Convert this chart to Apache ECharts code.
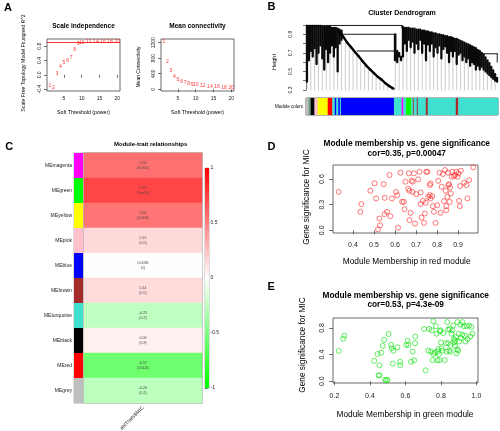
<!DOCTYPE html>
<html><head><meta charset="utf-8">
<script src="https://cdn.jsdelivr.net/npm/echarts@6/dist/echarts.min.js"></script>
<style>html,body{margin:0;padding:0;background:#fff}#c{width:500px;height:431px}</style>
</head><body><div id="c"></div>
<script>
// ---------- Panel A ----------
const powers = [1,2,3,4,5,6,7,8,9,10,12,14,16,18,20];
const scaleFitR2 = [-0.29,-0.35,0.03,0.23,0.34,0.40,0.49,0.69,0.87,0.89,0.92,0.92,0.92,0.93,0.93];
const meanConnectivity = [1230,700,470,325,257,206,180,154,129,110,93,67,55,45,40];
const r2Cutoff = 0.9;
const aXTicks = [5,10,15,20];
const aYTicks1 = [-0.4,0,0.4,0.8];
const aYTicks2 = [0,400,800,1200];

// ---------- Panel B (dendrogram, leaf positions 0..100) ----------
const dendroTop = [0.99,0.99,0.99,0.99,0.99,0.99,0.99,0.99,0.98,0.98,0.98,0.98,0.98,0.97,0.97,0.97,0.96,0.95,0.94,
  null,null,null,null,null,null,null,null,null,null,null,null,null,null,null,null,null,null,null,null,null,null,null,null,null,null,null,
  0.90,0.72,0.70,0.66,
  0.98,0.97,0.97,0.97,0.96,0.96,0.96,0.95,0.95,0.95,
  0.94,0.94,0.93,0.93,0.92,0.92,0.91,0.91,0.90,0.90,
  0.89,0.89,0.88,0.88,0.87,0.87,0.86,0.85,0.85,0.84,
  0.83,0.82,0.81,0.80,0.79,0.78,0.77,0.76,0.75,0.73,
  0.72,0.70,0.68,0.65,0.62,0.59,0.55,0.51,0.47,0.43];
const dendroLow = [0.39,0.62,0.72,0.66,0.75,0.58,0.70,0.78,0.64,0.52,0.74,0.60,0.70,0.78,0.66,0.76,0.50,0.80,0.84,
  0.87,0.84,0.81,0.79,0.76,0.73,0.71,0.68,0.66,0.63,0.61,0.58,0.56,0.54,0.52,0.50,0.48,0.46,0.44,0.42,0.41,0.39,0.37,0.36,0.34,0.33,0.315,
  0.62,0.60,0.66,0.62,
  0.66,0.80,0.72,0.84,0.76,0.82,0.70,0.80,0.74,0.84,
  0.70,0.80,0.62,0.79,0.72,0.80,0.66,0.76,0.70,0.78,
  0.64,0.74,0.77,0.70,0.60,0.72,0.66,0.72,0.58,0.68,
  0.70,0.62,0.66,0.60,0.64,0.56,0.60,0.58,0.52,0.56,
  0.52,0.55,0.52,0.50,0.48,0.46,0.44,0.42,0.40,0.39];
const leafFloor = 0.3;
const chainPos = [17.2,19.5,21.5,23.5,25.5,27.5,29.5,31.5,33.5,35.5,37.5,39.5,41.5,43.5,45.5];
const chainH   = [0.93,0.87,0.81,0.76,0.71,0.66,0.61,0.56,0.52,0.48,0.44,0.41,0.37,0.34,0.315];
const dendroLinks = [[1,0.995,50,0.995],[50,0.995,50,0.965],[18.6,0.90,46,0.90],[26.7,0.72,46,0.72],
  [46,0.90,46,0.62],[91,0.69,99.6,0.69],[99.6,0.69,99.6,0.60]];
const dendroYTicks = [0.3,0.4,0.5,0.6,0.7,0.8,0.9,1.0];
const dendroYLabels = [0.3,0.5,0.7,0.9];
const barStart = [0,1.3,2.4,4.4,6.1,11.3,13.7,15,15.8,16.8,17.6,18.2,45.8,49.8,50.7,52.1,54.8,55.6,56.3,57.7,58.2,62.4,63.4,78,79.3];
const barEnd   = [1.3,2.4,4.4,6.1,11.3,13.7,15,15.8,16.8,17.6,18.2,45.8,49.8,50.7,52.1,54.8,55.6,56.3,57.7,58.2,62.4,63.4,78,79.3,100];
const barColor = ['grey','#6f9f80','black','pink','yellow','red','turquoise','blue','turquoise','blue','turquoise','blue','turquoise','magenta','turquoise','green','turquoise','#8a6060','turquoise','brown','turquoise','brown','turquoise','brown','turquoise'];

// ---------- Panel C ----------
const modules = ['MEmagenta','MEgreen','MEyellow','MEpink','MEblue','MEbrown','MEturquoise','MEblack','MEred','MEgrey'];
const moduleColor = ['magenta','green','yellow','pink','blue','brown','turquoise','black','red','grey'];
const corr = [0.56,0.73,0.54,0.15,0.0036,0.14,-0.25,0.06,-0.57,-0.26];
const pval = ['0.005','5e-05','0.006','0.5','1','0.5','0.2','0.8','0.004','0.2'];
const trait = 'datTraits$MIC';
const cbTicks = [-1,-0.5,0,0.5,1];

// ---------- Panel D ----------
const mmRed = [0.332,0.435,0.44,0.483,0.503,0.51,0.519,0.526,0.529,0.546,0.55,0.551,0.562,0.574,0.578,0.586,0.605,0.61,0.615,0.626,
 0.634,0.642,0.645,0.65,0.663,0.666,0.669,0.669,0.674,0.679,0.683,0.685,0.69,0.695,0.701,0.71,0.717,0.722,0.722,0.726,
 0.733,0.738,0.742,0.746,0.749,0.754,0.758,0.765,0.766,0.769,0.769,0.777,0.78,0.785,0.793,0.801,0.806,0.812,0.817,0.822,
 0.828,0.833,0.838,0.841,0.844,0.844,0.849,0.852,0.854,0.857,0.86,0.862,0.865,0.87,0.873,0.881,0.886,0.892,0.898,0.902,
 0.905,0.908,0.91,0.913,0.929,0.94,0.945,0.953,0.972];
const gsRed = [0.45,0.216,0.306,0.463,0.55,0.373,0.01,0.137,0.059,0.541,0.188,0.38,0.216,0.647,0.165,0.373,0.45,0.41,0.031,0.675,
 0.333,0.333,0.247,0.569,0.486,0.667,0.463,0.118,0.204,0.58,0.45,0.569,0.667,0.078,0.424,0.596,0.686,0.306,0.443,0.149,
 0.345,0.086,0.196,0.322,0.686,0.686,0.392,0.412,0.529,0.373,0.549,0.4,0.282,0.216,0.086,0.294,0.58,0.675,0.204,0.51,
 0.659,0.341,0.706,0.463,0.282,0.235,0.392,0.675,0.529,0.541,0.333,0.502,0.431,0.627,0.686,0.635,0.647,0.686,0.627,0.667,
 0.345,0.282,0.518,0.698,0.557,0.529,0.373,0.588,0.737];
const dXTicks = [0.4,0.5,0.6,0.7,0.8,0.9];
const dYTicks = [0,0.3,0.6];

// ---------- Panel E ----------
const mmGreen = [0.224,0.249,0.256,0.424,0.443,0.449,0.454,0.454,0.464,0.473,0.48,0.486,0.492,0.499,0.505,0.52,0.523,0.529,0.533,0.555,
 0.57,0.57,0.604,0.613,0.617,0.632,0.641,0.649,0.654,0.656,0.705,0.714,0.729,0.733,0.744,0.748,0.753,0.757,0.757,0.766,
 0.772,0.776,0.78,0.781,0.785,0.789,0.791,0.794,0.798,0.8,0.804,0.809,0.813,0.822,0.828,0.832,0.836,0.841,0.841,0.847,
 0.85,0.854,0.854,0.86,0.865,0.869,0.873,0.875,0.879,0.88,0.884,0.888,0.892,0.893,0.897,0.901,0.903,0.91,0.912,0.92,
 0.921,0.929,0.935,0.938,0.944,0.95,0.959,0.966,0.972,0.978];
const gsGreen = [0.454,0.638,0.684,0.306,0.408,0.087,0.087,0.24,0.429,0.531,0.622,0.02,0.01,0.02,0.709,0.546,0.495,0.265,0.459,0.51,
 0.291,0.24,0.546,0.607,0.546,0.291,0.444,0.316,0.571,0.673,0.786,0.163,0.459,0.786,0.444,0.765,0.316,0.408,0.903,0.429,
 0.827,0.714,0.316,0.444,0.48,0.408,0.316,0.75,0.765,0.582,0.495,0.459,0.724,0.316,0.571,0.444,0.888,0.776,0.571,0.459,
 0.786,0.546,0.444,0.714,0.765,0.837,0.633,0.582,0.612,0.531,0.663,0.418,0.48,0.888,0.459,0.714,0.597,0.852,0.648,0.699,
 0.888,0.827,0.684,0.597,0.827,0.633,0.837,0.673,0.816,0.714];
const eXTicks = [0.2,0.4,0.6,0.8,1.0];
const eYTicks = [0,0.4,0.8];

// ======================================================
const FONT = '"Liberation Sans", Arial, Helvetica, sans-serif';
const RCOL = {magenta:'#FF00FF',green:'#00FF00',yellow:'#FFFF00',pink:'#FFC0CB',blue:'#0000FF',brown:'#A52A2A',
  turquoise:'#40E0D0',black:'#000000',red:'#FF0000',grey:'#BEBEBE'};
const col = c => RCOL[c] || c;
const zip = (a,b) => a.map((v,i)=>[v,b[i]]);

function valAxis(gi, min, max, ticks, o) {
  o = o || {};
  return {
    type:'value', gridIndex:gi, min:min, max:max, position:o.position,
    axisLine:{show:!!o.line, lineStyle:{color:'#333',width:0.8}}, offset:o.offset||0,
    axisTick:{show:true, length:o.tickLen||3, lineStyle:{color:'#333',width:0.7}, customValues:o.tickValues||ticks},
    axisLabel:{show:true, fontSize:o.fs||5, color:'#222', fontFamily:FONT, margin:o.margin||4, rotate:o.rotate||0,
      customValues:ticks, formatter:o.fmt||(v=>String(v))},
    splitLine:{show:false}
  };
}
const hiddenVal = (gi,min,max) => ({type:'value',gridIndex:gi,min:min,max:max,show:false});
const f1 = v => v.toFixed(1);

function segItem(color, width) {
  return function(params, api) {
    const p1 = api.coord([api.value(0), api.value(1)]);
    const p2 = api.coord([api.value(2), api.value(3)]);
    return {type:'line', shape:{x1:p1[0],y1:p1[1],x2:p2[0],y2:p2[1]},
      style:{stroke:color,lineWidth:width,lineCap:'round'}};
  };
}
const segDims = ['x1','y1','x2','y2'];
const segEncode = {x:[0,2], y:[1,3]};

const massData = [], leafData = [], chainData = [];
dendroTop.forEach((t,i)=>{ if (t !== null) massData.push([i+0.5, t, i+0.5, dendroLow[i]]); });
dendroLow.forEach((l,i)=>{ if (i % 2 === 0) leafData.push([i+0.5, l, i+0.5, leafFloor]); });
for (let i = 0; i < chainPos.length - 1; i++) chainData.push([chainPos[i], chainH[i], chainPos[i+1], chainH[i+1]]);

function txt(x,y,text,size,opt) {
  opt = opt || {};
  return {type:'text', x:x, y:y, rotation:opt.rot||0, silent:true,
    style:{text:text, fill:opt.color||'#000', font:(opt.bold?'bold ':'')+size+'px '+FONT,
      align:opt.align||'center', verticalAlign:'middle'}};
}

const grids = [
  {left:47, top:39, width:73, height:52},
  {left:161, top:39, width:73, height:52},
  {left:306, top:25, width:192, height:65},
  {left:306, top:98, width:192, height:17},
  {left:74, top:153, width:9, height:250},
  {left:84, top:153, width:118, height:250},
  {left:205, top:168, width:4, height:220},
  {left:333, top:165, width:145, height:68},
  {left:333, top:318, width:145, height:65}
].map((g,i)=>Object.assign({outerBoundsMode:'none', containLabel:false,
  show:[0,1,3,4,5,6,7,8].includes(i), borderColor:[4,5,6].includes(i)?'#aaa':'#444',
  borderWidth:i===5?1.5:0.8}, g));

function dendroSeries(data, color, width) {
  return {type:'custom', xAxisIndex:2, yAxisIndex:2, data:data, dimensions:segDims, encode:segEncode,
    renderItem:segItem(color,width), silent:true, clip:false};
}

const option = {
  animation:false,
  backgroundColor:'#fff',
  grid:grids,
  visualMap:[{type:'continuous', show:false, min:-1, max:1, seriesIndex:7, dimension:2,
    inRange:{color:['#00FF00','#FFFFFF','#FF0000']}}],
  xAxis:[
    valAxis(0,0.2,20.8,aXTicks,{margin:5}),
    valAxis(1,0.2,20.8,aXTicks,{margin:5}),
    hiddenVal(2,0,100),
    hiddenVal(3,0,100),
    {type:'category', gridIndex:4, data:['s'], show:false},
    {type:'category', gridIndex:5, data:[trait], axisLine:{show:false}, axisTick:{show:false},
      axisLabel:{rotate:45, fontSize:5, color:'#222', fontFamily:FONT, margin:4}},
    hiddenVal(6,0,1),
    valAxis(7,0.305,0.995,dXTicks,{fs:7, margin:9, tickLen:4, fmt:f1}),
    valAxis(8,0.192,1.009,eXTicks,{fs:7, margin:10, tickLen:4, fmt:f1})
  ],
  yAxis:[
    valAxis(0,-0.45,1.0,aYTicks1,{rotate:90, margin:5, fmt:f1}),
    valAxis(1,-45,1295,aYTicks2,{rotate:90, margin:5}),
    valAxis(2,0.3,1.0,dendroYLabels,{rotate:90, margin:6, line:true, offset:7, tickValues:dendroYTicks, fmt:f1}),
    hiddenVal(3,0,1),
    {type:'category', gridIndex:4, data:modules, inverse:true, axisLine:{show:false}, axisTick:{show:false},
      axisLabel:{fontSize:5, color:'#222', fontFamily:FONT, margin:2}},
    {type:'category', gridIndex:5, data:modules, inverse:true, show:false},
    valAxis(6,-1,1,cbTicks,{position:'right', tickLen:2.5, margin:1.5, fs:5}),
    valAxis(7,-0.032,0.765,dYTicks,{fs:7, rotate:90, margin:7.5, tickLen:4, fmt:f1}),
    valAxis(8,-0.027,0.95,eYTicks,{fs:7, rotate:90, margin:7.5, tickLen:4, fmt:f1})
  ],
  series:[
    {type:'scatter', xAxisIndex:0, yAxisIndex:0, data:zip(powers,scaleFitR2), symbolSize:1,
      itemStyle:{color:'rgba(0,0,0,0)'},
      label:{show:true, position:'inside', formatter:p=>p.value[0], color:'#FF0000', fontSize:5, fontFamily:FONT},
      markLine:{silent:true, symbol:'none', label:{show:false}, lineStyle:{color:'#FF0000', width:0.8, type:'solid'},
        data:[{yAxis:r2Cutoff}]}},
    {type:'scatter', xAxisIndex:1, yAxisIndex:1, data:zip(powers,meanConnectivity), symbolSize:1,
      itemStyle:{color:'rgba(0,0,0,0)'},
      label:{show:true, position:'inside', formatter:p=>p.value[0], color:'#FF0000', fontSize:5, fontFamily:FONT}},
    dendroSeries(leafData, '#b4b4b4', 0.7),
    dendroSeries(massData, '#0a0a0a', 2.3),
    dendroSeries(dendroLinks, '#000', 0.9),
    dendroSeries(chainData, '#000', 2.4),
    {type:'custom', xAxisIndex:3, yAxisIndex:3, data:barStart.map((s,i)=>[s,barEnd[i]]), silent:true,
      dimensions:['s','e'], encode:{x:[0,1]},
      renderItem:(params,api)=>{
        const a = api.coord([api.value(0),1]), b = api.coord([api.value(1),0]);
        return {type:'rect', shape:{x:a[0],y:a[1],width:b[0]-a[0]+0.3,height:b[1]-a[1]},
          style:{fill:col(barColor[params.dataIndex])}};
      }},
    {type:'heatmap', xAxisIndex:5, yAxisIndex:5, data:corr.map((v,i)=>[0,i,v]),
      label:{show:true, fontSize:3.6, lineHeight:4.5, color:'#444', fontFamily:FONT,
        formatter:p=>corr[p.dataIndex]+'\n('+pval[p.dataIndex]+')'}},
    {type:'custom', xAxisIndex:4, yAxisIndex:4, data:modules.map((m,i)=>[0,i]), silent:true,
      renderItem:(params,api)=>{
        const c = api.coord([api.value(0),api.value(1)]), s = api.size([1,1]);
        return {type:'rect', shape:{x:c[0]-s[0]/2,y:c[1]-s[1]/2,width:s[0],height:s[1]},
          style:{fill:col(moduleColor[params.dataIndex])}};
      }},
    {type:'custom', xAxisIndex:6, yAxisIndex:6, data:[[0,cbTicks[4],1,cbTicks[0]]], silent:true,
      dimensions:segDims, encode:segEncode,
      renderItem:(params,api)=>{
        const a = api.coord([api.value(0),api.value(1)]), b = api.coord([api.value(2),api.value(3)]);
        return {type:'rect', shape:{x:a[0],y:a[1],width:b[0]-a[0],height:b[1]-a[1]},
          style:{fill:new echarts.graphic.LinearGradient(0,0,0,1,[
            {offset:0,color:'#FF0000'},{offset:0.5,color:'#FFFFFF'},{offset:1,color:'#00FF00'}])}};
      }},
    {type:'scatter', xAxisIndex:7, yAxisIndex:7, data:zip(mmRed,gsRed), symbol:'circle', symbolSize:5,
      itemStyle:{color:'rgba(0,0,0,0)', borderColor:'#FF2020', borderWidth:0.75}},
    {type:'scatter', xAxisIndex:8, yAxisIndex:8, data:zip(mmGreen,gsGreen), symbol:'circle', symbolSize:5,
      itemStyle:{color:'rgba(0,0,0,0)', borderColor:'#00E000', borderWidth:0.75}}
  ],
  graphic:{elements:[
    txt(8,8,'A',11,{bold:true}),
    txt(271.5,6.7,'B',11,{bold:true}),
    txt(9.3,147,'C',11,{bold:true}),
    txt(271.5,146.7,'D',11,{bold:true}),
    txt(271.2,287,'E',11,{bold:true}),
    txt(83.5,26,'Scale independence',6.5,{bold:true}),
    txt(197.5,26,'Mean connectivity',6.5,{bold:true}),
    txt(83.5,112.7,'Soft Threshold (power)',5.2),
    txt(197.5,112.7,'Soft Threshold (power)',5.2),
    txt(23.5,63,'Scale Free Topology Model Fit,signed R^2',5.2,{rot:Math.PI/2}),
    txt(138.5,67,'Mean Connectivity',5,{rot:Math.PI/2}),
    txt(402,13.5,'Cluster Dendrogram',7,{bold:true}),
    txt(274,62,'Height',5.5,{rot:Math.PI/2}),
    txt(303,107,'Module colors',4.5,{align:'right'}),
    txt(150.7,144,'Module-trait relationships',6,{bold:true}),
    txt(406.7,144,'Module membership vs. gene significance',8.3,{bold:true}),
    txt(406.7,154,'cor=0.35, p=0.00047',8.3,{bold:true}),
    txt(406.7,261.7,'Module Membership in red module',8.3),
    txt(306.7,197,'Gene significance for MIC',8.3,{rot:Math.PI/2}),
    txt(405.7,296,'Module membership vs. gene significance',8.3,{bold:true}),
    txt(405.7,305,'cor=0.53, p=4.3e-09',8.3,{bold:true}),
    txt(405,415,'Module Membership in green module',8.3),
    txt(303,345,'Gene significance for MIC',8.3,{rot:Math.PI/2})
  ]}
};
const chart = echarts.init(document.getElementById('c'), null, {renderer:'canvas'});
chart.setOption(option);
</script></body></html>
